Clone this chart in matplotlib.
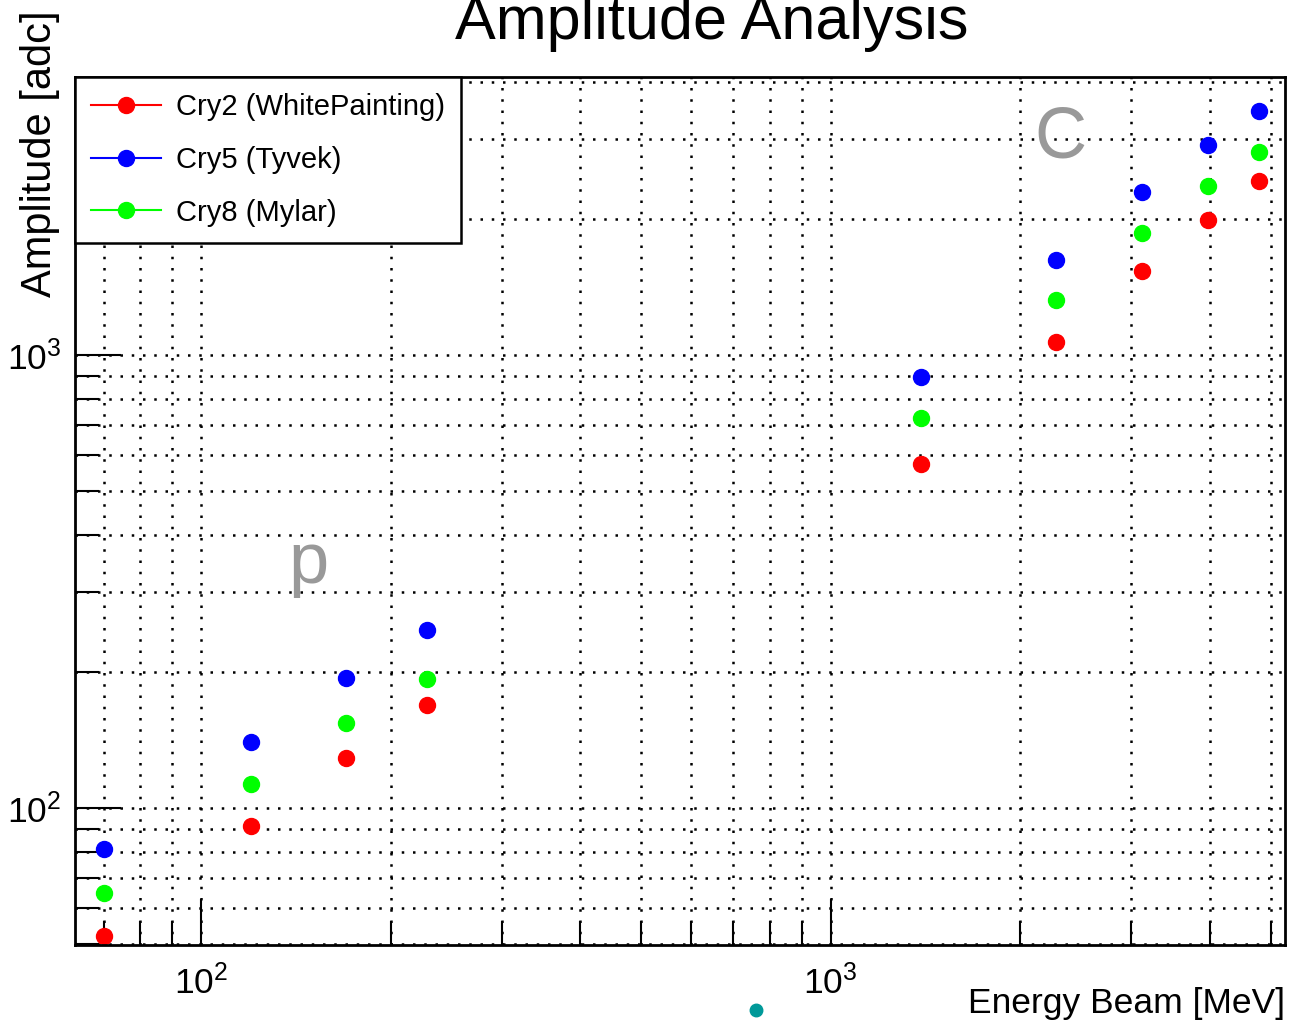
import matplotlib

matplotlib.use("Agg")
import matplotlib.pyplot as plt
from matplotlib.ticker import LogLocator, NullFormatter

plt.rcParams["font.family"] = ["Liberation Sans", "DejaVu Sans"]
plt.rcParams["mathtext.fontset"] = "custom"
plt.rcParams["mathtext.rm"] = "Liberation Sans"
plt.rcParams["mathtext.it"] = "Liberation Sans"

energy = [70, 120, 170, 228, 1389, 2284, 3128, 3981, 4797]
cry2 = [52, 91, 129, 169, 575, 1068, 1532, 1986, 2422]
cry5 = [81, 140, 194, 247, 894, 1621, 2290, 2908, 3456]
cry8 = [65, 113, 154, 193, 726, 1323, 1859, 2361, 2806]

series = [
    ("Cry2 (WhitePainting)", cry2, "#ff0000"),
    ("Cry5 (Tyvek)", cry5, "#0000ff"),
    ("Cry8 (Mylar)", cry8, "#00ff00"),
]

fig = plt.figure(figsize=(12.91, 10.27), dpi=100)
ax = fig.add_axes([75 / 1291, 1 - 945 / 1027, 1210 / 1291, 868 / 1027])

for label, vals, col in series:
    ax.plot(energy, vals, linestyle="none", marker="o", markersize=11.5,
            color=col, label=label)

ax.set_xscale("log")
ax.set_yscale("log")
ax.set_xlim(63.0, 5270)
ax.set_ylim(49.8, 4110)

ax.xaxis.set_major_locator(LogLocator(base=10))
ax.xaxis.set_minor_locator(LogLocator(base=10, subs=range(2, 10)))
ax.yaxis.set_major_locator(LogLocator(base=10))
ax.yaxis.set_minor_locator(LogLocator(base=10, subs=range(2, 10)))
ax.xaxis.set_minor_formatter(NullFormatter())
ax.yaxis.set_minor_formatter(NullFormatter())

ax.grid(True, which="both", color="black", linestyle=(0, (1, 3.5)), linewidth=1.8)
ax.tick_params(which="both", direction="in", top=False, right=False,
               width=1.5, labelsize=25.5)
ax.tick_params(axis="y", pad=10)
ax.tick_params(axis="x", pad=14)
ax.tick_params(which="major", length=33)
ax.tick_params(which="minor", length=17)
for s in ax.spines.values():
    s.set_linewidth(2)

ax.text(0.193, 0.438, "p", transform=ax.transAxes, fontsize=52,
        color="#999999", ha="center", va="center")
ax.text(0.814, 0.928, "C", transform=ax.transAxes, fontsize=52,
        color="#999999", ha="center", va="center")

# stray marker below the axes
ax.plot([760], [35.8], marker="o", markersize=9, color="#009999",
        linestyle="none", clip_on=False)

leg = ax.legend(loc="upper left", bbox_to_anchor=(0, 1), borderaxespad=0,
                fancybox=False, framealpha=1, edgecolor="black", fontsize=21,
                handlelength=2.4, handletextpad=0.5, labelspacing=0.85,
                borderpad=0.55)
leg.get_frame().set_linewidth(1.8)
for ln in leg.get_lines():
    ln.set_linestyle("-")
    ln.set_linewidth(1.5)

fig.text(0.551, 0.977, "Amplitude Analysis", ha="center", va="center",
         fontsize=44)
fig.text(0.031, 0.99, "Amplitude [adc]", rotation=90, ha="center", va="top",
         fontsize=30)
fig.text(0.995, 0.023, "Energy Beam [MeV]", ha="right", va="center",
         fontsize=25.5)

fig.savefig("out.png", dpi=100)
